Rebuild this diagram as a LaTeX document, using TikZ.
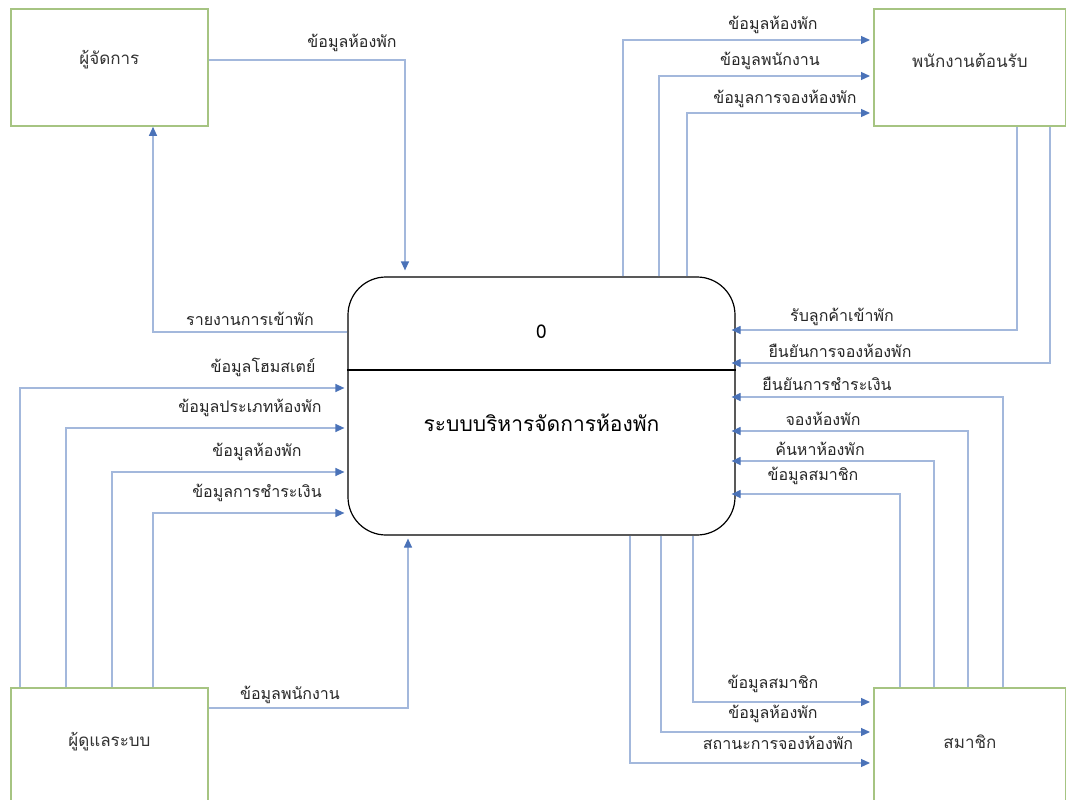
\documentclass[tikz,border=0pt]{standalone}
\usepackage{fontspec}
\newfontfamily\thai[Script=Thai]{Loma}
\usetikzlibrary{arrows.meta}
\definecolor{ln}{HTML}{A3B8DC}
\definecolor{tipc}{HTML}{4A72B8}
\definecolor{ent}{HTML}{A6C482}
\begin{document}
\begin{tikzpicture}[x=1pt,y=-1pt,
  font=\thai\fontsize{16}{18}\selectfont,
  entity/.style={draw=ent, line width=1.8pt, anchor=north west, inner sep=0pt},
  flow/.style={draw=ln, line width=1.2pt, -{Triangle[length=9pt,width=8pt,color=tipc,fill=tipc]}},
  lbl/.style={inner sep=1pt, text=black!85}]
\useasboundingbox (0,0) rectangle (1066,800);
\fill[white] (0,0) rectangle (1066,800);

% entities
\node[entity, minimum width=197pt, minimum height=117pt,
  label={[yshift=8pt,text=black!80,font=\thai\fontsize{17}{19}\selectfont]center:ผู้จัดการ}] (mgr) at (10,8) {};
\node[entity, minimum width=192pt, minimum height=117pt,
  label={[yshift=7pt,text=black!80,font=\thai\fontsize{17}{19}\selectfont]center:พนักงานต้อนรับ}] (rec) at (873,8) {};
\node[entity, minimum width=197pt, minimum height=120pt,
  label={[yshift=6pt,text=black!80,font=\thai\fontsize{17}{19}\selectfont]center:ผู้ดูแลระบบ}] (adm) at (10,687) {};
\node[entity, minimum width=192pt, minimum height=120pt,
  label={[yshift=6pt,text=black!80,font=\thai\fontsize{17}{19}\selectfont]center:สมาชิก}] (mem) at (873,687) {};

% process
\node[draw=black, line width=1.2pt, rounded corners=38pt, minimum width=387pt, minimum height=258pt, inner sep=0pt,
  label={[yshift=74pt,font=\thai\fontsize{19}{21}\selectfont]center:0},
  label={[yshift=-17pt,font=\thai\fontsize{21}{24}\selectfont]center:ระบบบริหารจัดการห้องพัก}] (p) at (541.5,406) {};
\draw[line width=1.2pt] (p.west |- 0,370) -- (p.east |- 0,370);

% manager flows
\draw[flow, shorten >=6pt] (mgr.east |- 0,60) -| (405,0 |- p.north);
\node[lbl] (l1) at (352,43) {ข้อมูลห้องพัก};
\draw[flow] (p.west |- 0,332) -| (153,0 |- mgr.south);
\node[lbl] (l2) at (250,319) {รายงานการเข้าพัก};

% admin flows
\draw[flow, shorten >=3pt] (20,0 |- adm.north) |- (p.west |- 0,388);
\node[lbl] (l3) at (263,367) {ข้อมูลโฮมสเตย์};
\draw[flow, shorten >=3pt] (66,0 |- adm.north) |- (p.west |- 0,428);
\node[lbl] (l4) at (250,408) {ข้อมูลประเภทห้องพัก};
\draw[flow, shorten >=3pt] (112,0 |- adm.north) |- (p.west |- 0,472);
\node[lbl] (l5) at (257,452) {ข้อมูลห้องพัก};
\draw[flow, shorten >=3pt] (153,0 |- adm.north) |- (p.west |- 0,513);
\node[lbl] (l6) at (257,493) {ข้อมูลการชำระเงิน};
\draw[flow, shorten >=3pt] (adm.east |- 0,708) -| (408,0 |- p.south);
\node[lbl] (l7) at (290,695) {ข้อมูลพนักงาน};

% receptionist flows
\draw[flow, shorten >=3pt] (623,0 |- p.north) |- (rec.west |- 0,40);
\node[lbl] (l8) at (773,25) {ข้อมูลห้องพัก};
\draw[flow, shorten >=3pt] (659,0 |- p.north) |- (rec.west |- 0,76);
\node[lbl] (l9) at (770,61) {ข้อมูลพนักงาน};
\draw[flow, shorten >=3pt] (687,0 |- p.north) |- (rec.west |- 0,113);
\node[lbl] (l10) at (785,99) {ข้อมูลการจองห้องพัก};
\draw[flow, shorten >=-4pt] (1017,0 |- rec.south) |- (p.east |- 0,330);
\node[lbl] (l11) at (842,317) {รับลูกค้าเข้าพัก};
\draw[flow, shorten >=-4pt] (1050,0 |- rec.south) |- (p.east |- 0,363);
\node[lbl] (l12) at (840,351) {ยืนยันการจองห้องพัก};

% member flows
\draw[flow, shorten >=-4pt] (1003,0 |- mem.north) |- (p.east |- 0,397);
\node[lbl] (l13) at (827,384) {ยืนยันการชำระเงิน};
\draw[flow, shorten >=-4pt] (968,0 |- mem.north) |- (p.east |- 0,431);
\node[lbl] (l14) at (823,419) {จองห้องพัก};
\draw[flow, shorten >=-4pt] (934,0 |- mem.north) |- (p.east |- 0,461);
\node[lbl] (l15) at (820,449) {ค้นหาห้องพัก};
\draw[flow, shorten >=-4pt] (900,0 |- mem.north) |- (p.east |- 0,494);
\node[lbl] (l16) at (813,476) {ข้อมูลสมาชิก};
\draw[flow, shorten >=3pt] (693,0 |- p.south) |- (mem.west |- 0,702);
\node[lbl] (l17) at (773,684) {ข้อมูลสมาชิก};
\draw[flow, shorten >=3pt] (661,0 |- p.south) |- (mem.west |- 0,732);
\node[lbl] (l18) at (773,714) {ข้อมูลห้องพัก};
\draw[flow, shorten >=3pt] (630,0 |- p.south) |- (mem.west |- 0,763);
\node[lbl] (l19) at (778,743) {สถานะการจองห้องพัก};
\end{tikzpicture}
\end{document}
